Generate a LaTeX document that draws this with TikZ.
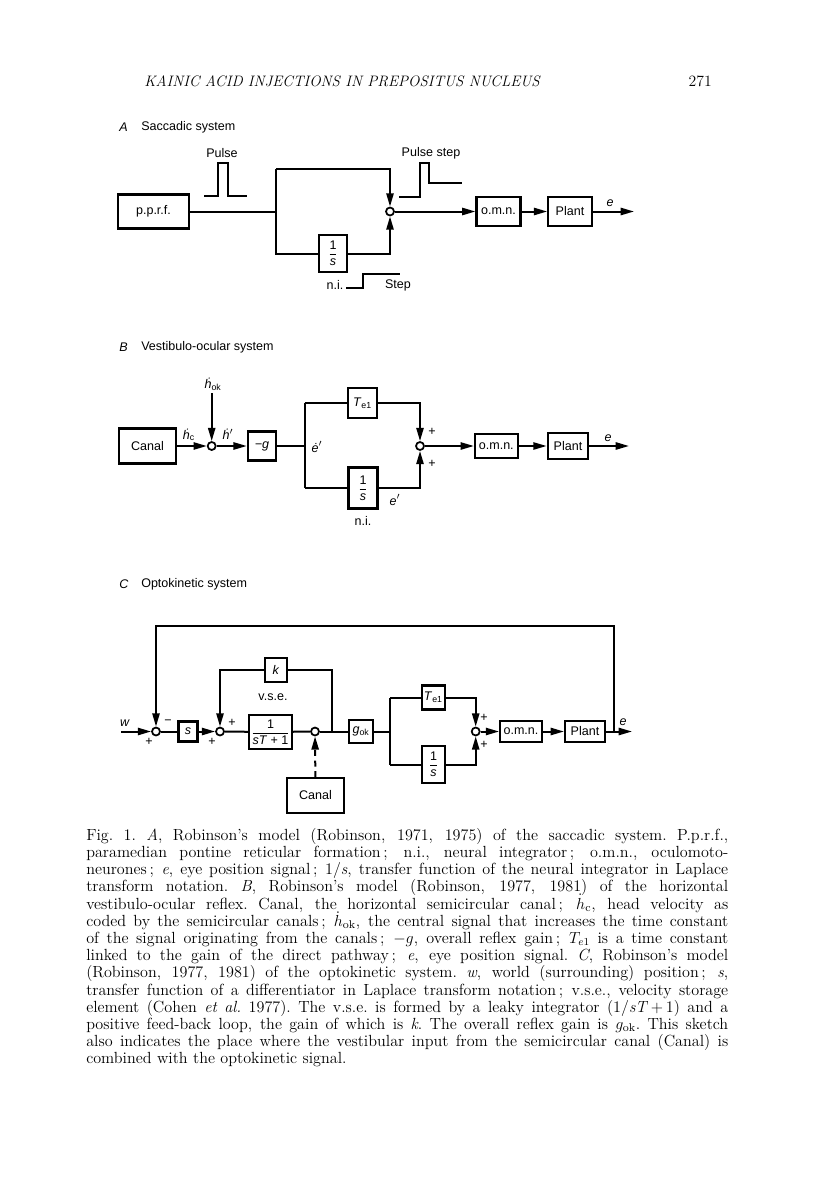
\documentclass[tikz,border=0pt]{standalone}
\usepackage{amsmath}
\usepackage{fontspec}
\setsansfont{Liberation Sans}
\usepackage{tikz}
\usetikzlibrary{arrows.meta,positioning,calc}
\newcommand{\frc}[2]{$\displaystyle\frac{\mbox{\sffamily #1}}{\mbox{\sffamily #2}}$}
\newcommand{\hdot}{\textit{\.h}}
\newcommand{\capline}[1]{\makebox[481.5pt][s]{\spaceskip=0.33em plus 1em minus 0.1em\xspaceskip=\spaceskip #1}}

\begin{document}
\begin{tikzpicture}[x=0.75pt, y=-0.75pt,
  font=\fontsize{9.4}{10}\selectfont\sffamily,
  blk/.style={draw, line width=1.6pt, inner sep=1pt, fill=white},
  sz/.style 2 args={minimum width=#1*0.75pt, minimum height=#2*0.75pt},
  sumj/.style={circle, draw, line width=1.3pt, fill=white, minimum size=6pt, inner sep=0pt},
  wire/.style={line width=1.5pt},
  arr/.style={wire, -{Triangle[length=10pt,width=5.4pt]}},
  wave/.style={line width=1.3pt},
  sgn/.style={inner sep=0pt},
  ttl/.style={anchor=west, inner sep=0pt}]
\useasboundingbox (0,0) rectangle (816,1181);

% running head
\node[anchor=base west, inner sep=0pt, font=\fontsize{11.35}{12}\selectfont\rmfamily\itshape] (runhd) at (144,86) {KAINIC ACID INJECTIONS IN PREPOSITUS NUCLEUS};
\node[anchor=base east, inner sep=0pt, font=\fontsize{11.8}{12}\selectfont\rmfamily] (pgno) at (712,86) {271};

% A  saccadic system
\node[ttl] (ltrA) at (119,127) {\textit{A}};
\node[ttl] (ttlA) at (141,127) {Saccadic system};
\node[blk, sz={71}{34}] (pprf) at (153.5,211.5) {p.p.r.f.};
\coordinate (brA) at (276,211.5);
\coordinate (tpA) at (276,169);
\coordinate (btA) at (276,253.5);
\node[blk, sz={28}{37}] (niA) at (333,253.5) {\frc{1}{\textit{s}}};
\node[sumj] (sumA) at (390,211.5) {};
\node[blk, sz={44}{29}] (omnA) at (498.5,211.5) {o.m.n.};
\node[blk, sz={43.5}{28.5}] (plantA) at (570,211.5) {Plant};
\coordinate (outA) at (634,211.5);
\draw[wire] (pprf) -- (brA);
\draw[wire] (tpA) -- (btA) -- (niA);
\draw[arr] (tpA) -| (sumA.north);
\draw[arr] (niA) -| (sumA.south);
\draw[arr] (sumA) -- (omnA);
\draw[arr] (omnA) -- (plantA);
\draw[arr] (plantA) -- (outA);
\node (eA) at (610,203) {\textit{e}};
\node (plsA) at (222,153) {Pulse};
\node (psA) at (431,153) {Pulse step};
\node (nilA) at (335,285) {n.i.};
\node (stpA) at (398,285) {Step};
\draw[wave] (204,196) -- (218,196) -- (218,163) -- (228,163) -- (228,196) -- (247,196);
\draw[wave] (399,197) -- (420,197) -- (420,163) -- (429,163) -- (429,183) -- (462,183);
\draw[wave] (346,288) -- (363,288) -- (363,274) -- (400,274);

% B  vestibulo-ocular system
\node[ttl] (ltrB) at (119,347) {\textit{B}};
\node[ttl] (ttlB) at (141,347) {Vestibulo-ocular system};
\node[blk, sz={56.4}{35}] (canB) at (147.5,446) {Canal};
\node[sumj] (sumB) at (211.7,446) {};
\coordinate (hokB) at (211.7,393);
\node[blk, sz={28.3}{29}] (gB) at (262,446) {\textit{\textminus g}};
\coordinate (brB) at (304.5,446);
\coordinate (tpB) at (304.5,403);
\coordinate (btB) at (304.5,488);
\node[blk, sz={28.4}{30}] (teB) at (362.5,403) {\textit{T}\textsubscript{e1}};
\node[blk, sz={29}{41}] (niB) at (363,488) {\frc{1}{\textit{s}}};
\node[sumj] (sum2B) at (420,446) {};
\node[blk, sz={42.7}{24}] (omnB) at (496.3,446) {o.m.n.};
\node[blk, sz={40.6}{26}] (plantB) at (568,446) {Plant};
\coordinate (outB) at (629,446);
\draw[arr] (canB) -- (sumB);
\draw[arr] (hokB) -- (sumB);
\draw[arr] (sumB) -- (gB);
\draw[wire] (gB) -- (brB);
\draw[wire] (tpB) -- (btB);
\draw[wire] (tpB) -- (teB);
\draw[wire] (btB) -- (niB);
\draw[arr] (teB) -| (sum2B.north);
\draw[arr] (niB) -| (sum2B.south);
\draw[arr] (sum2B) -- (omnB);
\draw[arr] (omnB) -- (plantB);
\draw[arr] (plantB) -- (outB);
\node (hokl) at (213,384) {\hdot\textsubscript{ok}};
\node (hcl) at (189,435) {\hdot\textsubscript{c}};
\node (hpl) at (228,434) {\hdot$'$};
\node (edl) at (317,447) {\textit{\.e}$'$};
\node (epl) at (395,500) {\textit{e}$'$};
\node (nilB) at (363,521) {n.i.};
\node[sgn] (p1B) at (432,432) {+};
\node[sgn] (p2B) at (432,464) {+};
\node (eB) at (608,438) {\textit{e}};

% C  optokinetic system
\node[ttl] (ltrC) at (119,584) {\textit{C}};
\node[ttl] (ttlC) at (141,584) {Optokinetic system};
\coordinate (inC) at (121,731.5);
\node[sumj] (sum1C) at (156,731.5) {};
\node[blk, sz={19}{20}] (dfC) at (188,731.5) {\textit{s}};
\node[sumj] (sum2C) at (220,731.5) {};
\node[blk, sz={21.7}{23.4}] (kC) at (276,670) {\textit{k}};
\node[blk, sz={42.4}{34}] (lkC) at (270.5,732) {\frc{1}{\textit{sT} + 1}};
\node[sumj] (sum3C) at (315,731.5) {};
\coordinate (brkC) at (331.7,731.5);
\node[blk, sz={57.6}{34.4}] (canC) at (315.5,795.5) {Canal};
\node[blk, sz={23.7}{23.3}] (gokC) at (361,731.5) {\textit{g}\textsubscript{ok}};
\coordinate (brC) at (390,731.5);
\coordinate (tpC) at (390,697.5);
\coordinate (btC) at (390,764.5);
\node[blk, sz={23.3}{24}] (teC) at (433.3,697.5) {\textit{T}\textsubscript{e1}};
\node[blk, sz={23.3}{37}] (niC) at (433.5,764.5) {\frc{1}{\textit{s}}};
\node[sumj] (sum4C) at (475.7,731.5) {};
\node[blk, sz={41.7}{20.7}] (omnC) at (521,731.5) {o.m.n.};
\node[blk, sz={40}{21.7}] (plantC) at (585,731.5) {Plant};
\coordinate (outC) at (632,731.5);
\coordinate (fbC) at (614.3,731.5);
\coordinate (topC) at (614.3,626);
\draw[arr] (inC) -- (sum1C);
\draw[arr] (fbC) -- (topC) -| (sum1C.north);
\draw[wire] (sum1C) -- (dfC);
\draw[arr] (dfC) -- (sum2C);
\draw[wire] (brkC) |- (kC);
\draw[arr] (kC) -| (sum2C.north);
\draw[wire] (sum2C) -- (lkC);
\draw[wire] (lkC) -- (sum3C);
\draw[wire] (sum3C) -- (gokC);
\draw[arr, dash pattern=on 4.5pt off 3.5pt] (canC) -- (sum3C);
\draw[wire] (gokC) -- (brC);
\draw[wire] (tpC) -- (btC);
\draw[wire] (tpC) -- (teC);
\draw[wire] (btC) -- (niC);
\draw[arr] (teC) -| (sum4C.north);
\draw[arr] (niC) -| (sum4C.south);
\draw[arr] (sum4C) -- (omnC);
\draw[arr] (omnC) -- (plantC);
\draw[arr] (plantC) -- (outC);
\node (wl) at (125,723) {\textit{w}};
\node[sgn] (p1C) at (149,742) {+};
\node[sgn] (m1C) at (168,722) {\textminus};
\node[sgn] (p2C) at (232,723) {+};
\node[sgn] (p3C) at (212,742) {+};
\node (vse) at (273,697) {v.s.e.};
\node[sgn] (p4C) at (484,718) {+};
\node[sgn] (p5C) at (484,745) {+};
\node (eC) at (623,722) {\textit{e}};

% caption
\node[anchor=north west, inner sep=0pt, text width=481.5pt, align=left,
  font=\fontsize{12.1}{12.9}\selectfont\rmfamily] (capt) at (86,828) {%
\capline{Fig.~1. \textit{A}, Robinson's model (Robinson, 1971, 1975) of the saccadic system. P.p.r.f.,}\\
\capline{paramedian pontine reticular formation\,; n.i., neural integrator\,; o.m.n., oculomoto-}\\
\capline{neurones\,; \textit{e}, eye position signal\,; 1/\textit{s}, transfer function of the neural integrator in Laplace}\\
\capline{transform notation. \textit{B}, Robinson's model (Robinson, 1977, 1981) of the horizontal}\\
\capline{vestibulo-ocular reflex. Canal, the horizontal semicircular canal\,; $\smash{\dot h}_{\mathrm{c}}$, head velocity as}\\
\capline{coded by the semicircular canals\,; $\smash{\dot h}_{\mathrm{ok}}$, the central signal that increases the time constant}\\
\capline{of the signal originating from the canals\,; $-g$, overall reflex gain\,; $T_{e1}$ is a time constant}\\
\capline{linked to the gain of the direct pathway\,; \textit{e}, eye position signal. \textit{C}, Robinson's model}\\
\capline{(Robinson, 1977, 1981) of the optokinetic system. \textit{w}, world (surrounding) position\,; \textit{s},}\\
\capline{transfer function of a differentiator in Laplace transform notation\,; v.s.e., velocity storage}\\
\capline{element (Cohen \textit{et al.} 1977). The v.s.e. is formed by a leaky integrator (1/\textit{sT}\,+\,1) and a}\\
\capline{positive feed-back loop, the gain of which is \textit{k}. The overall reflex gain is $g_{\mathrm{ok}}$. This sketch}\\
\capline{also indicates the place where the vestibular input from the semicircular canal (Canal) is}\\
combined with the optokinetic signal.};
\end{tikzpicture}
\end{document}
